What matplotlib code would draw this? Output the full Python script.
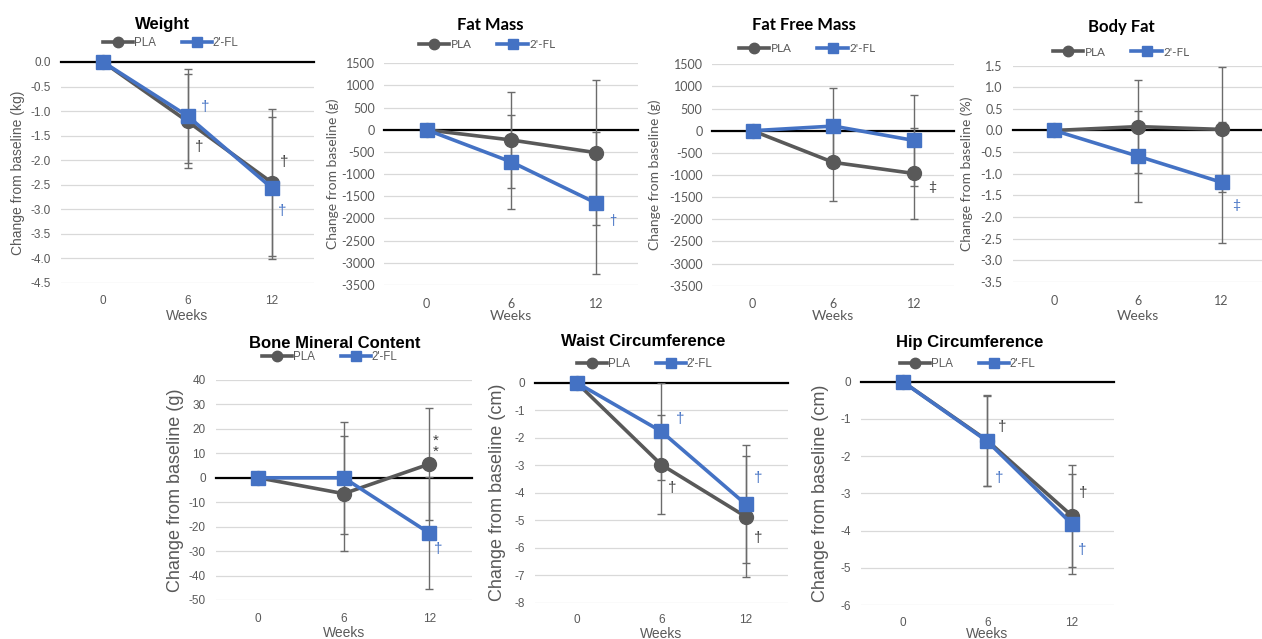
import numpy as np
import matplotlib
matplotlib.use("Agg")
import matplotlib.pyplot as plt

plt.rcParams["axes.unicode_minus"] = False

W, H = 1262, 639

weeks = ["0", "6", "12"]

# Mean change from baseline and SD, placebo (PLA) and 2'-FL groups
weight_pla = [0.0, -1.21, -2.46]
weight_pla_sd = [0.0, 0.96, 1.50]
weight_fl = [0.0, -1.10, -2.57]
weight_fl_sd = [0.0, 0.96, 1.45]

fatmass_pla = [0, -230, -515]
fatmass_pla_sd = [0, 1090, 1628]
fatmass_fl = [0, -725, -1650]
fatmass_fl_sd = [0, 1060, 1598]

ffm_pla = [0, -715, -966]
ffm_pla_sd = [0, 872, 1035]
ffm_fl = [0, 105, -220]
ffm_fl_sd = [0, 866, 1025]

bodyfat_pla = [0.0, 0.09, 0.025]
bodyfat_pla_sd = [0.0, 1.08, 1.445]
bodyfat_fl = [0.0, -0.595, -1.20]
bodyfat_fl_sd = [0.0, 1.055, 1.40]

bmc_pla = [0.0, -6.5, 5.6]
bmc_pla_sd = [0.0, 23.5, 23.0]
bmc_fl = [0.0, 0.0, -22.6]
bmc_fl_sd = [0.0, 22.9, 22.8]

waist_pla = [0.0, -2.98, -4.87]
waist_pla_sd = [0.0, 1.80, 2.20]
waist_fl = [0.0, -1.77, -4.42]
waist_fl_sd = [0.0, 1.76, 2.15]

hip_pla = [0.0, -1.58, -3.60]
hip_pla_sd = [0.0, 1.22, 1.37]
hip_fl = [0.0, -1.60, -3.82]
hip_fl_sd = [0.0, 1.21, 1.35]

# Significance symbols: (symbol, group, x position, y position)
weight_marks = [("†", "fl", 1.21, -0.92), ("†", "pla", 1.14, -1.73),
                ("†", "pla", 2.15, -2.04), ("†", "fl", 2.12, -3.04)]
fatmass_marks = [("†", "fl", 2.20, -2023)]
ffm_marks = [("‡", "pla", 2.22, -1265)]
bodyfat_marks = [("‡", "fl", 2.17, -1.73)]
bmc_marks = [("*\n*", "pla", 2.07, 13.0), ("†", "fl", 2.10, -29.3)]
waist_marks = [("†", "fl", 1.22, -1.33), ("†", "pla", 1.13, -3.84),
               ("†", "fl", 2.15, -3.48), ("†", "pla", 2.15, -5.66)]
hip_marks = [("†", "pla", 1.18, -1.23), ("†", "fl", 1.14, -2.60),
             ("†", "pla", 2.14, -3.00), ("†", "fl", 2.12, -4.52)]

PLA_COLOR = "#595959"
FL_COLOR = "#4472C4"
MARK_COLORS = {"pla": "#404040", "fl": "#4472C4"}
TEXT_GRAY = "#595959"
ARIAL = "Liberation Sans"
CALIBRI = "Lato"

panels = [
    dict(title="Weight", ylabel="Change from baseline (kg)",
         pla=weight_pla, pla_sd=weight_pla_sd, fl=weight_fl, fl_sd=weight_fl_sd,
         ylim=(-4.5, 0.0), step=0.5, fmt="{:.1f}", marks=weight_marks,
         rect=(60.8, 62, 314.2, 282.7), title_xy=(163, 24), leg_xy=(171, 43),
         ylab_x=18, font=ARIAL, tick_fs=8.5, lab_fs=10, ylab_fs=10,
         title_fs=12, leg_fs=8.3, mark_fs=11, xt_y=299, xl_y=316),
    dict(title="Fat Mass", ylabel="Change from baseline (g)",
         pla=fatmass_pla, pla_sd=fatmass_pla_sd, fl=fatmass_fl, fl_sd=fatmass_fl_sd,
         ylim=(-3500, 1500), step=500, fmt="{:.0f}", marks=fatmass_marks,
         rect=(384.4, 63.3, 638.3, 285), title_xy=(490, 25), leg_xy=(487, 45),
         ylab_x=333, font=CALIBRI, tick_fs=9, lab_fs=10, ylab_fs=10,
         title_fs=12, leg_fs=8.5, mark_fs=9, xt_y=302, xl_y=316),
    dict(title="Fat Free Mass", ylabel="Change from baseline (g)",
         pla=ffm_pla, pla_sd=ffm_pla_sd, fl=ffm_fl, fl_sd=ffm_fl_sd,
         ylim=(-3500, 1500), step=500, fmt="{:.0f}", marks=ffm_marks,
         rect=(712.3, 64.3, 954.4, 285.7), title_xy=(804, 25), leg_xy=(807, 49),
         ylab_x=655, font=CALIBRI, tick_fs=9, lab_fs=10, ylab_fs=10,
         title_fs=12, leg_fs=8.5, mark_fs=10, xt_y=302, xl_y=316),
    dict(title="Body Fat", ylabel="Change from baseline (%)",
         pla=bodyfat_pla, pla_sd=bodyfat_pla_sd, fl=bodyfat_fl, fl_sd=bodyfat_fl_sd,
         ylim=(-3.5, 1.5), step=0.5, fmt="{:.1f}", marks=bodyfat_marks,
         rect=(1012.5, 65.7, 1263.5, 281.7), title_xy=(1121, 27), leg_xy=(1121, 52),
         ylab_x=967, font=CALIBRI, tick_fs=9, lab_fs=10, ylab_fs=10,
         title_fs=12, leg_fs=8.5, mark_fs=10, xt_y=299, xl_y=316),
    dict(title="Bone Mineral Content", ylabel="Change from baseline (g)",
         pla=bmc_pla, pla_sd=bmc_pla_sd, fl=bmc_fl, fl_sd=bmc_fl_sd,
         ylim=(-50, 40), step=10, fmt="{:.0f}", marks=bmc_marks,
         rect=(215.5, 380, 472, 600), title_xy=(335, 344), leg_xy=(330, 357),
         ylab_x=175, font=ARIAL, tick_fs=8.5, lab_fs=10, ylab_fs=13,
         title_fs=12, leg_fs=8.3, mark_fs=11, xt_y=617, xl_y=633),
    dict(title="Waist Circumference", ylabel="Change from baseline (cm)",
         pla=waist_pla, pla_sd=waist_pla_sd, fl=waist_fl, fl_sd=waist_fl_sd,
         ylim=(-8, 0), step=1, fmt="{:.0f}", marks=waist_marks,
         rect=(534.5, 382.7, 788, 602.7), title_xy=(643, 342), leg_xy=(645, 364),
         ylab_x=497, font=ARIAL, tick_fs=8.5, lab_fs=10, ylab_fs=13,
         title_fs=12, leg_fs=8.3, mark_fs=11, xt_y=618, xl_y=634),
    dict(title="Hip Circumference", ylabel="Change from baseline (cm)",
         pla=hip_pla, pla_sd=hip_pla_sd, fl=hip_fl, fl_sd=hip_fl_sd,
         ylim=(-6, 0), step=1, fmt="{:.0f}", marks=hip_marks,
         rect=(860.5, 381.7, 1114, 605), title_xy=(970, 343), leg_xy=(968, 364),
         ylab_x=820, font=ARIAL, tick_fs=8.5, lab_fs=10, ylab_fs=13,
         title_fs=12, leg_fs=8.3, mark_fs=11, xt_y=621, xl_y=634),
]

fig = plt.figure(figsize=(W / 100, H / 100), dpi=100)
fig.patch.set_facecolor("white")

x = np.arange(len(weeks))

for p in panels:
    l, t, r, b = p["rect"]
    ax = fig.add_axes([l / W, 1 - b / H, (r - l) / W, (b - t) / H])
    ax.set_facecolor("none")
    fam = [p["font"], "DejaVu Sans"]

    lo, hi = p["ylim"]
    ticks = np.arange(lo, hi + p["step"] / 2, p["step"])
    ax.set_ylim(lo, hi)
    ax.set_yticks(ticks)
    ax.set_yticklabels([p["fmt"].format(v) for v in ticks])
    ax.set_xlim(-0.5, len(weeks) - 0.5)
    ax.set_xticks(x)
    ax.set_xticklabels(weeks)

    ax.yaxis.grid(True, color="#d9d9d9", lw=0.9)
    ax.set_axisbelow(True)
    for s in ax.spines.values():
        s.set_visible(False)
    ax.tick_params(length=0, colors=TEXT_GRAY, labelsize=p["tick_fs"], pad=7)
    for lab in ax.get_xticklabels() + ax.get_yticklabels():
        lab.set_family(fam)
    # x tick label placement in pixels below the plot area
    ax.tick_params(axis="x", pad=(p["xt_y"] - b) * 0.72 - p["tick_fs"] * 0.35)

    ax.axhline(0, color="black", lw=1.6, zorder=2, clip_on=False)

    # error bars (only at follow-up visits)
    for vals, sd in ((p["pla"], p["pla_sd"]), (p["fl"], p["fl_sd"])):
        vals = np.asarray(vals, float)
        sd = np.asarray(sd, float)
        m = sd > 0
        ax.errorbar(x[m], vals[m], yerr=sd[m], fmt="none", ecolor="#6b6b6b",
                    elinewidth=1.0, capsize=3, capthick=1.0, zorder=3)

    ax.plot(x, p["pla"], color=PLA_COLOR, lw=2.6, marker="o", ms=10,
            label="PLA", zorder=4, clip_on=False)
    ax.plot(x, p["fl"], color=FL_COLOR, lw=2.6, marker="s", ms=10,
            label="2'-FL", zorder=5, clip_on=False)

    for sym, grp, mx, my in p["marks"]:
        ax.text(mx, my, sym, color=MARK_COLORS[grp], fontsize=p["mark_fs"],
                ha="center", va="center", family=fam, zorder=6,
                linespacing=0.75)

    ax.set_ylabel(p["ylabel"], fontsize=p["ylab_fs"], color=TEXT_GRAY, family=fam)
    ax.yaxis.set_label_coords((p["ylab_x"] - l) / (r - l), 0.5)
    ax.yaxis.label.set_va("center")
    ax.set_xlabel("Weeks", fontsize=p["lab_fs"], color=TEXT_GRAY, family=fam)
    ax.xaxis.set_label_coords(0.5, -(p["xl_y"] - b) / (b - t))
    ax.xaxis.label.set_va("center")

    tx, ty = p["title_xy"]
    fig.text(tx / W, 1 - ty / H, p["title"], ha="center", va="center",
             fontsize=p["title_fs"], fontweight="bold", color="black", family=fam)

    lx, ly = p["leg_xy"]
    leg = ax.legend(loc="center", bbox_to_anchor=(lx / W, 1 - ly / H),
                    bbox_transform=fig.transFigure, ncol=2, frameon=False,
                    handlelength=2.6, handletextpad=0.1,
                    columnspacing=2.2, markerscale=0.75,
                    prop={"family": fam, "size": p["leg_fs"]})
    for txt in leg.get_texts():
        txt.set_color(TEXT_GRAY)

fig.savefig("out.png", dpi=100, facecolor="white")
